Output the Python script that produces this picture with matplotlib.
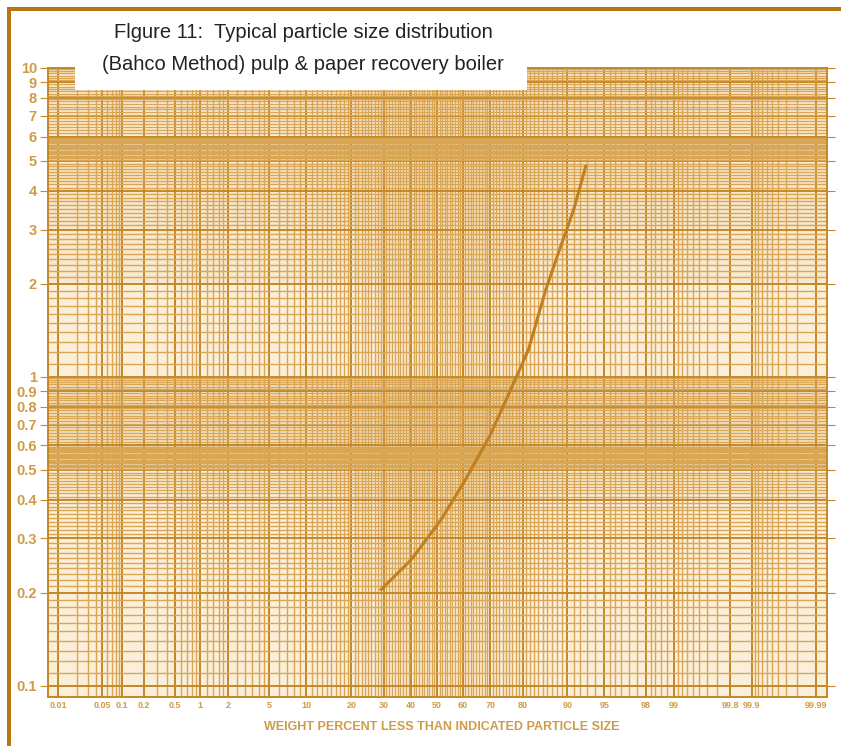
from statistics import NormalDist

import numpy as np
import matplotlib
matplotlib.use("Agg")
from matplotlib import pyplot as plt
from matplotlib.patches import Rectangle
from matplotlib.ticker import FixedLocator, FixedFormatter, NullFormatter

# data
percent_less = [29.2, 40.0, 51.5, 61.0, 70.0, 77.5, 81.5, 85.7, 88.2, 91.0, 92.8]
particle_size = [0.205, 0.256, 0.344, 0.465, 0.65, 0.96, 1.22, 1.91, 2.48, 3.47, 4.8]

x_tick_values = [0.01, 0.05, 0.1, 0.2, 0.5, 1, 2, 5, 10, 20, 30, 40, 50, 60, 70,
                 80, 90, 95, 98, 99, 99.8, 99.9, 99.99]
x_tick_labels = ["0.01", "0.05", "0.1", "0.2", "0.5", "1", "2", "5", "10", "20", "30",
                 "40", "50", "60", "70", "80", "90", "95", "98", "99", "99.8", "99.9",
                 "99.99"]
y_tick_values = [0.1, 0.2, 0.3, 0.4, 0.5, 0.6, 0.7, 0.8, 0.9, 1, 2, 3, 4, 5, 6, 7, 8, 9, 10]
y_tick_labels = ["0.1", "0.2", "0.3", "0.4", "0.5", "0.6", "0.7", "0.8", "0.9", "1",
                 "2", "3", "4", "5", "6", "7", "8", "9", "10"]

title_lines = ["Flgure 11:  Typical particle size distribution",
               "(Bahco Method) pulp & paper recovery boiler"]
x_title = "WEIGHT PERCENT LESS THAN INDICATED PARTICLE SIZE"

nd = NormalDist()


def prob_fwd(p):
    p = np.clip(np.asarray(p, dtype=float), 1e-7, 100 - 1e-7)
    return np.vectorize(lambda v: nd.inv_cdf(v / 100.0), otypes=[float])(p)


def prob_inv(z):
    z = np.asarray(z, dtype=float)
    return np.vectorize(lambda v: nd.cdf(v) * 100.0, otypes=[float])(z)


# probability paper rulings
xgrid = np.concatenate([np.arange(0.01, 0.1, 0.01), np.arange(0.1, 1, 0.1),
                        np.arange(1, 2, 0.2), np.arange(2, 5, 0.5), np.arange(5, 95, 1),
                        np.arange(95, 98, 0.5), np.arange(98, 99, 0.2),
                        np.arange(99, 99.9, 0.1), np.arange(99.9, 99.995, 0.01)])
ygrid = []
for base in (0.1, 1.0):
    ygrid += list(base * np.arange(1, 2, 0.1)) + list(base * np.arange(2, 5, 0.1))
    ygrid += list(base * np.arange(5, 6, 0.05)) + list(base * np.arange(6, 10, 0.15))
ygrid.append(10)

grid_minor = "#d9a655"
grid_major = "#c48828"
label_col = "#cf9b48"
font = ["Liberation Sans", "DejaVu Sans"]

fig = plt.figure(figsize=(8.41, 7.46), dpi=100)
fig.patch.set_facecolor("white")
ax = fig.add_axes([48 / 841, 1 - 697 / 746, (827 - 48) / 841, (697 - 68) / 746])
ax.set_facecolor("#fbefd9")

ax.set_yscale("log")
ax.set_xscale("function", functions=(prob_fwd, prob_inv))
ax.set_xlim(prob_inv(-3.82), prob_inv(3.83))
ax.set_ylim(0.092, 10)

ax.xaxis.set_major_locator(FixedLocator(x_tick_values))
ax.xaxis.set_major_formatter(FixedFormatter(x_tick_labels))
ax.xaxis.set_minor_locator(FixedLocator(xgrid))
ax.xaxis.set_minor_formatter(NullFormatter())
ax.yaxis.set_major_locator(FixedLocator(y_tick_values))
ax.yaxis.set_major_formatter(FixedFormatter(y_tick_labels))
ax.yaxis.set_minor_locator(FixedLocator(ygrid))
ax.yaxis.set_minor_formatter(NullFormatter())

ax.grid(which="minor", color=grid_minor, lw=1.0)
ax.grid(which="major", color=grid_major, lw=1.4)
ax.set_axisbelow(True)

ax.tick_params(which="minor", length=0)
ax.tick_params(axis="y", which="major", length=6, color=grid_major, right=True,
               labelcolor=label_col, labelsize=10.5, pad=2)
ax.tick_params(axis="x", which="major", length=0, labelcolor=label_col, labelsize=6.5,
               pad=3)
for lab in ax.get_xticklabels() + ax.get_yticklabels():
    lab.set_fontfamily(font)
    lab.set_fontweight("bold")
for s in ax.spines.values():
    s.set_color(grid_major)
    s.set_linewidth(1.4)

# darker moire bands seen on the scan
for lo, hi, a in [(5, 6, 0.22), (0.5, 0.6, 0.22), (0.6, 1.0, 0.1), (2, 5, 0.06)]:
    ax.axhspan(lo, hi, color="#c8882a", alpha=a, lw=0, zorder=0.5)

ax.plot(percent_less, particle_size, color="#c0801f", lw=2.2, zorder=3)

# title block pasted over the top of the paper
fig.patches.append(Rectangle((75 / 841, 1 - 90 / 746), (527 - 75) / 841, 90 / 746,
                             transform=fig.transFigure, facecolor="white",
                             edgecolor="none", zorder=5))
fig.text(303 / 841, 1 - 32 / 746, title_lines[0], ha="center", va="center",
         fontsize=14.5, color="#222222", family=font, zorder=6)
fig.text(303 / 841, 1 - 65 / 746, title_lines[1], ha="center", va="center",
         fontsize=14.5, color="#222222", family=font, zorder=6)

fig.text(442 / 841, 1 - 727 / 746, x_title, ha="center", va="center", fontsize=9,
         color=label_col, family=font, fontweight="bold")

# page frame on left and top
fig.patches.append(Rectangle((7 / 841, 0), 4 / 841, 1 - 7 / 746, transform=fig.transFigure,
                             facecolor="#b8790c", edgecolor="none", zorder=7))
fig.patches.append(Rectangle((7 / 841, 1 - 11 / 746), 1 - 7 / 841, 4 / 746,
                             transform=fig.transFigure, facecolor="#b8790c",
                             edgecolor="none", zorder=7))

fig.savefig("out.png", dpi=100)
